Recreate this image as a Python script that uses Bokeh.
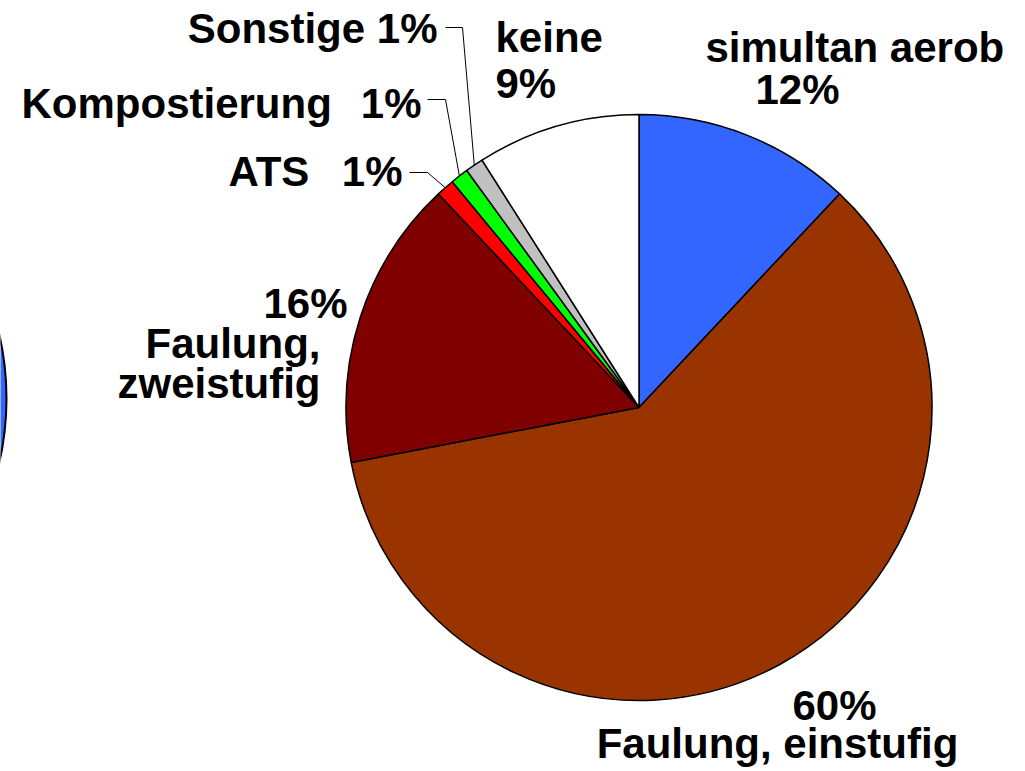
import numpy as np
from bokeh.plotting import figure
from bokeh.models import Range1d, ColumnDataSource
from bokeh.core.properties import value
from bokeh.embed import file_html
from bokeh.resources import INLINE

# ---- data (clockwise from 12 o'clock) ----
categories = ["simultan aerob", "Faulung, einstufig", "Faulung, zweistufig",
              "ATS", "Kompostierung", "Sonstige", "keine"]
shares = [12, 60, 16, 1, 1, 1, 9]
pct_labels = ["12%", "60%", "16%", "1%", "1%", "1%", "9%"]
colors = ["#3366FF", "#993300", "#800000", "#FF0000", "#00FF00", "#C0C0C0", "#FFFFFF"]

W, H = 1025, 771
TEXT_DY = 15  # baseline calibration for the text glyph


def sy(y):  # screen y -> data y
    return H - y


p = figure(width=W, height=H, x_range=Range1d(0, W), y_range=Range1d(0, H),
           output_backend="svg", toolbar_location=None, min_border=0)
p.axis.visible = False
p.grid.visible = False
p.outline_line_color = None
p.background_fill_color = "white"

# partial neighbouring pie at the far left edge
p.circle(x=[-284], y=[sy(398)], radius=290, fill_color="#3366FF",
         line_color="black", line_width=2)

cx, cy, r = 638.5, sy(407), 293
vals = np.array(shares, dtype=float)
frac = vals / vals.sum()
cum = np.concatenate([[0], np.cumsum(frac)])
start = np.pi / 2 - 2 * np.pi * cum[:-1]
end = np.pi / 2 - 2 * np.pi * cum[1:]
src = ColumnDataSource(dict(start=start, end=end, color=colors))
p.wedge(x=cx, y=cy, radius=r, start_angle="start", end_angle="end",
        direction="clock", fill_color="color", line_color="black",
        line_width=1.5, source=src)

# leader lines for the small slices
mid = (cum[:-1] + cum[1:]) / 2
leader = {3: ((427, 172), 409), 4: ((445, 99), 427), 5: ((462, 27), 445)}
for i, ((ex, ey), lx) in leader.items():
    a = np.pi / 2 - 2 * np.pi * mid[i]
    px, py = cx + r * np.cos(a), cy + r * np.sin(a)
    p.line(x=[px, ex, lx], y=[py, sy(ey), sy(ey)], line_color="black", line_width=1)

font = value("Liberation Sans")
fs = "42px"


def label(x, y, t, align):
    p.text(x=[x], y=[sy(y - TEXT_DY)], text=[t], text_font=font, text_font_style="bold",
           text_font_size=fs, text_align=align, text_baseline="alphabetic",
           text_color="black")


label(437, 43, categories[5] + " " + pct_labels[5], "right")
label(21, 118, categories[4], "left")
label(421, 118, pct_labels[4], "right")
label(228, 186, categories[3], "left")
label(402, 186, pct_labels[3], "right")
label(495, 52, categories[6], "left")
label(495, 98, pct_labels[6], "left")
label(705, 62, categories[0], "left")
label(755, 104, pct_labels[0], "left")
label(347, 318, pct_labels[2], "right")
label(320, 358, "Faulung,", "right")
label(320, 398, "zweistufig", "right")
label(834, 720, pct_labels[1], "center")
label(777, 758, categories[1], "center")

open("out.html", "w").write(file_html(p, INLINE))
